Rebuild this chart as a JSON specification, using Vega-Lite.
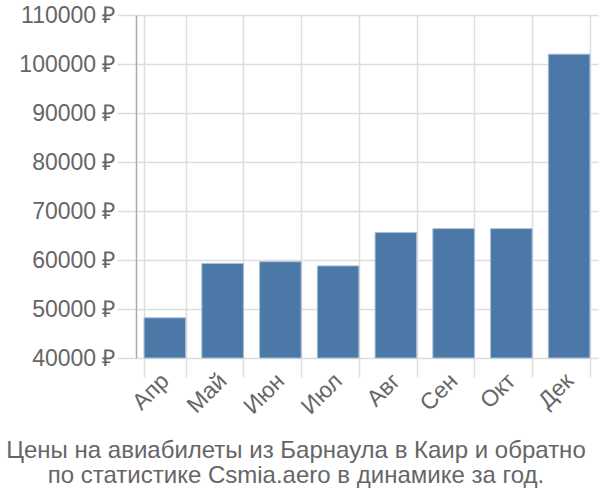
{
  "$schema": "https://vega.github.io/schema/vega-lite/v6.json",
  "width": 462,
  "height": 343,
  "autosize": "none",
  "padding": {"left": 136, "top": 15, "right": 2, "bottom": 142},
  "background": "white",
  "data": {
    "values": [
      {"month": "Апр", "price": 48200},
      {"month": "Май", "price": 59300},
      {"month": "Июн", "price": 59650},
      {"month": "Июл", "price": 58800},
      {"month": "Авг", "price": 65600},
      {"month": "Сен", "price": 66400},
      {"month": "Окт", "price": 66400},
      {"month": "Дек", "price": 102000}
    ]
  },
  "title": {
    "text": ["Цены на авиабилеты из Барнаула в Каир и обратно", "по статистике Csmia.aero в динамике за год."],
    "orient": "bottom",
    "anchor": "middle",
    "font": "Liberation Sans",
    "fontSize": 24,
    "fontWeight": "normal",
    "color": "#666666",
    "lineHeight": 25,
    "offset": 20,
    "dx": -71
  },
  "config": {
    "view": {"stroke": null},
    "axis": {
      "labelFont": "Liberation Sans",
      "labelFontSize": 23,
      "labelColor": "#666666",
      "gridColor": "#dddddd",
      "gridWidth": 1.5,
      "tickColor": "#dddddd",
      "tickWidth": 1.5
    }
  },
  "mark": {"type": "bar", "color": "#4c78a8", "stroke": "#a8bfd9", "strokeWidth": 1},
  "encoding": {
    "x": {
      "field": "month",
      "type": "nominal",
      "sort": null,
      "scale": {"paddingInner": 0.28, "paddingOuter": 0.14},
      "axis": {
        "title": null,
        "labelAngle": -45,
        "labelAlign": "right",
        "labelBaseline": "middle",
        "tickBand": "extent",
        "tickSize": 19,
        "labelPadding": 0,
        "grid": true,
        "domain": false
      }
    },
    "y": {
      "field": "price",
      "type": "quantitative",
      "scale": {"domain": [40000, 110000], "zero": false, "nice": false},
      "axis": {
        "title": null,
        "values": [40000, 50000, 60000, 70000, 80000, 90000, 100000, 110000],
        "labelExpr": "datum.value + ' ₽'",
        "tickSize": 19,
        "labelPadding": 2,
        "domain": true,
        "domainColor": "#aaaaaa",
        "domainWidth": 1.5
      }
    },
    "y2": {"datum": 40000}
  }
}
